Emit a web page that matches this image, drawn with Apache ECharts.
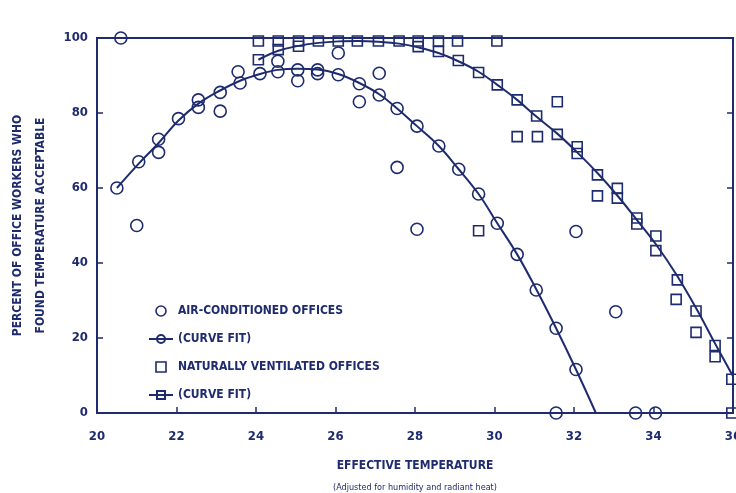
<!DOCTYPE html>
<html>
<head>
<meta charset="utf-8">
<script src="https://cdn.jsdelivr.net/npm/echarts@6/dist/echarts.min.js"></script>
<style>
  html, body { margin: 0; padding: 0; background: #fff; }
  #chart { width: 736px; height: 493px; }
</style>
</head>
<body>
<div id="chart"></div>
<script>
// air-conditioned offices, observed points [temp, percent]
var acPoints = [
    [20.6, 100], [20.5, 60], [21.05, 67], [21.0, 50], [21.55, 73], [21.55, 69.5],
    [22.05, 78.5], [22.55, 83.5], [22.55, 81.5], [23.1, 80.5], [23.1, 85.5],
    [23.55, 91], [23.6, 88], [24.1, 90.5], [24.55, 93.8], [24.55, 91],
    [25.05, 91.5], [25.05, 88.6], [25.55, 91.5], [25.55, 90.5], [26.07, 96],
    [26.07, 90.2], [26.6, 87.8], [26.6, 83], [27.1, 90.6], [27.1, 84.8],
    [27.55, 81.2], [27.55, 65.5], [28.05, 76.5], [28.05, 49], [28.6, 71.2],
    [29.1, 65], [29.6, 58.4], [30.07, 50.6], [30.57, 42.3], [31.05, 32.8],
    [31.55, 22.6], [32.05, 11.6], [32.05, 48.4], [33.05, 27], [31.55, 0],
    [33.55, 0], [34.05, 0]
];
// air-conditioned curve fit
var acFit = [
    [20.5, 60], [21.05, 66.5], [21.55, 72], [22.05, 78], [22.55, 82.5], [23.1, 86],
    [23.6, 88.6], [24.1, 90.4], [24.55, 91.5], [25.05, 91.8], [25.55, 91.6],
    [26.07, 90.4], [26.6, 88], [27.1, 85], [27.55, 81.2], [28.05, 76.5],
    [28.6, 71.2], [29.1, 65], [29.6, 58.4], [30.07, 50.6], [30.57, 42.3],
    [31.05, 33], [31.55, 22.6], [32.05, 11.6], [32.55, 0]
];
// naturally ventilated offices, observed points
var nvPoints = [
    [24.06, 99.2], [24.56, 99.2], [25.07, 99.2], [25.57, 99.2], [26.07, 99.2],
    [26.55, 99.2], [27.08, 99.2], [27.6, 99.2], [28.08, 99.2], [28.59, 99.2],
    [29.07, 99.2], [30.06, 99.2],
    [24.06, 94.2], [24.56, 96.9], [25.07, 97.8], [28.08, 97.7], [28.59, 96.4],
    [29.09, 94], [29.6, 90.8], [30.07, 87.5], [30.57, 83.5], [31.58, 83],
    [31.06, 79.2], [30.57, 73.7], [31.08, 73.7], [31.58, 74.3], [32.08, 71],
    [32.08, 69.2], [32.59, 63.5], [32.59, 57.9], [33.09, 59.9], [33.09, 57.3],
    [33.58, 52], [33.58, 50.4], [34.06, 47.2], [34.06, 43.3], [34.6, 35.5],
    [34.57, 30.3], [35.07, 27.2], [35.07, 21.5], [35.55, 18], [35.55, 15],
    [35.97, 9], [35.97, 0], [29.6, 48.6]
];
// naturally ventilated curve fit
var nvFit = [
    [24.06, 94.2], [24.56, 96.6], [25.07, 97.9], [25.57, 98.7], [26.07, 99.1],
    [26.57, 99.2], [27.08, 99], [27.6, 98.5], [28.08, 97.5], [28.59, 96],
    [29.09, 93.8], [29.6, 91], [30.07, 87.5], [30.57, 83.5], [31.06, 79],
    [31.58, 74.5], [32.08, 69.5], [32.59, 64], [33.09, 58], [33.58, 51.5],
    [34.06, 45], [34.57, 37], [35.07, 28], [35.55, 18.5], [36, 9.8]
];

var ink = '#1e2b6e';
var font = '"Liberation Sans Narrow", "DejaVu Sans Condensed", sans-serif';
var squareIcon = 'path://M0,0 L10,0 L10,10 L0,10 Z';
var hollow = { color: 'rgba(255,255,255,0)', borderColor: ink, borderWidth: 1.6, opacity: 1 };

var chart = echarts.init(document.getElementById('chart'));
var option = {
    backgroundColor: '#fff',
    animation: false,
    grid: {
        left: 97, right: 3, top: 38, bottom: 80,
        outerBoundsMode: 'none',
        show: true, borderColor: ink, borderWidth: 2
    },
    legend: {
        orient: 'vertical',
        left: 143,
        top: 300,
        itemWidth: 24,
        itemHeight: 10,
        itemGap: 16,
        symbolKeepAspect: true,
        textStyle: { color: ink, fontFamily: font, fontWeight: 'bold', fontSize: 12 },
        formatter: function (name) {
            if (name === 'acFit' || name === 'nvFit') return '(CURVE FIT)';
            return name;
        },
        data: [
            { name: 'AIR-CONDITIONED OFFICES', icon: 'circle', itemStyle: hollow },
            'acFit',
            { name: 'NATURALLY VENTILATED OFFICES', icon: squareIcon, itemStyle: hollow },
            'nvFit'
        ]
    },
    xAxis: [{
        type: 'value',
        min: 20, max: 36, interval: 2,
        splitLine: { show: false },
        axisLine: { onZero: false, lineStyle: { color: ink, width: 2 } },
        axisTick: { inside: true, length: 6, lineStyle: { color: ink, width: 1.5 } },
        axisLabel: { color: ink, fontFamily: font, fontWeight: 'bold', fontSize: 13, margin: 17 },
        name: '{a|EFFECTIVE TEMPERATURE}\n{b|(Adjusted for humidity and radiant heat)}',
        nameLocation: 'middle',
        nameGap: 42,
        nameTextStyle: {
            color: ink,
            rich: {
                a: { fontFamily: font, fontSize: 12, fontWeight: 'bold', color: ink, lineHeight: 22 },
                b: { fontFamily: font, fontSize: 9, color: ink, lineHeight: 22 }
            }
        }
    }],
    yAxis: [{
        type: 'value',
        min: 0, max: 100, interval: 20,
        splitLine: { show: false },
        axisLine: { onZero: false, lineStyle: { color: ink, width: 2 } },
        axisTick: { inside: true, length: 6, lineStyle: { color: ink, width: 1.5 } },
        axisLabel: { color: ink, fontFamily: font, fontWeight: 'bold', fontSize: 13, margin: 9 },
        name: 'PERCENT OF OFFICE WORKERS WHO\nFOUND TEMPERATURE ACCEPTABLE',
        nameLocation: 'middle',
        nameRotate: 90,
        nameGap: 40,
        nameTextStyle: { color: ink, fontFamily: font, fontWeight: 'bold', fontSize: 12, lineHeight: 23 }
    }, {
        type: 'value',
        position: 'right',
        min: 0, max: 100, interval: 20,
        splitLine: { show: false },
        axisLine: { show: true, lineStyle: { color: ink, width: 2 } },
        axisTick: { inside: true, length: 6, lineStyle: { color: ink, width: 1.5 } },
        axisLabel: { show: false }
    }],
    series: [
        {
            name: 'AIR-CONDITIONED OFFICES',
            type: 'scatter',
            symbol: 'circle',
            symbolSize: 12,
            itemStyle: hollow,
            data: acPoints,
            z: 3
        },
        {
            name: 'acFit',
            type: 'line',
            smooth: 0.4,
            symbol: 'circle',
            symbolSize: 10,
            showSymbol: false,
            lineStyle: { color: ink, width: 2 },
            itemStyle: hollow,
            data: acFit
        },
        {
            name: 'NATURALLY VENTILATED OFFICES',
            type: 'scatter',
            symbol: 'rect',
            symbolSize: 10,
            itemStyle: hollow,
            data: nvPoints,
            z: 3
        },
        {
            name: 'nvFit',
            type: 'line',
            smooth: 0.4,
            symbol: 'rect',
            symbolSize: 9,
            showSymbol: false,
            lineStyle: { color: ink, width: 2 },
            itemStyle: hollow,
            data: nvFit
        }
    ]
};
chart.setOption(option);
</script>
</body>
</html>
